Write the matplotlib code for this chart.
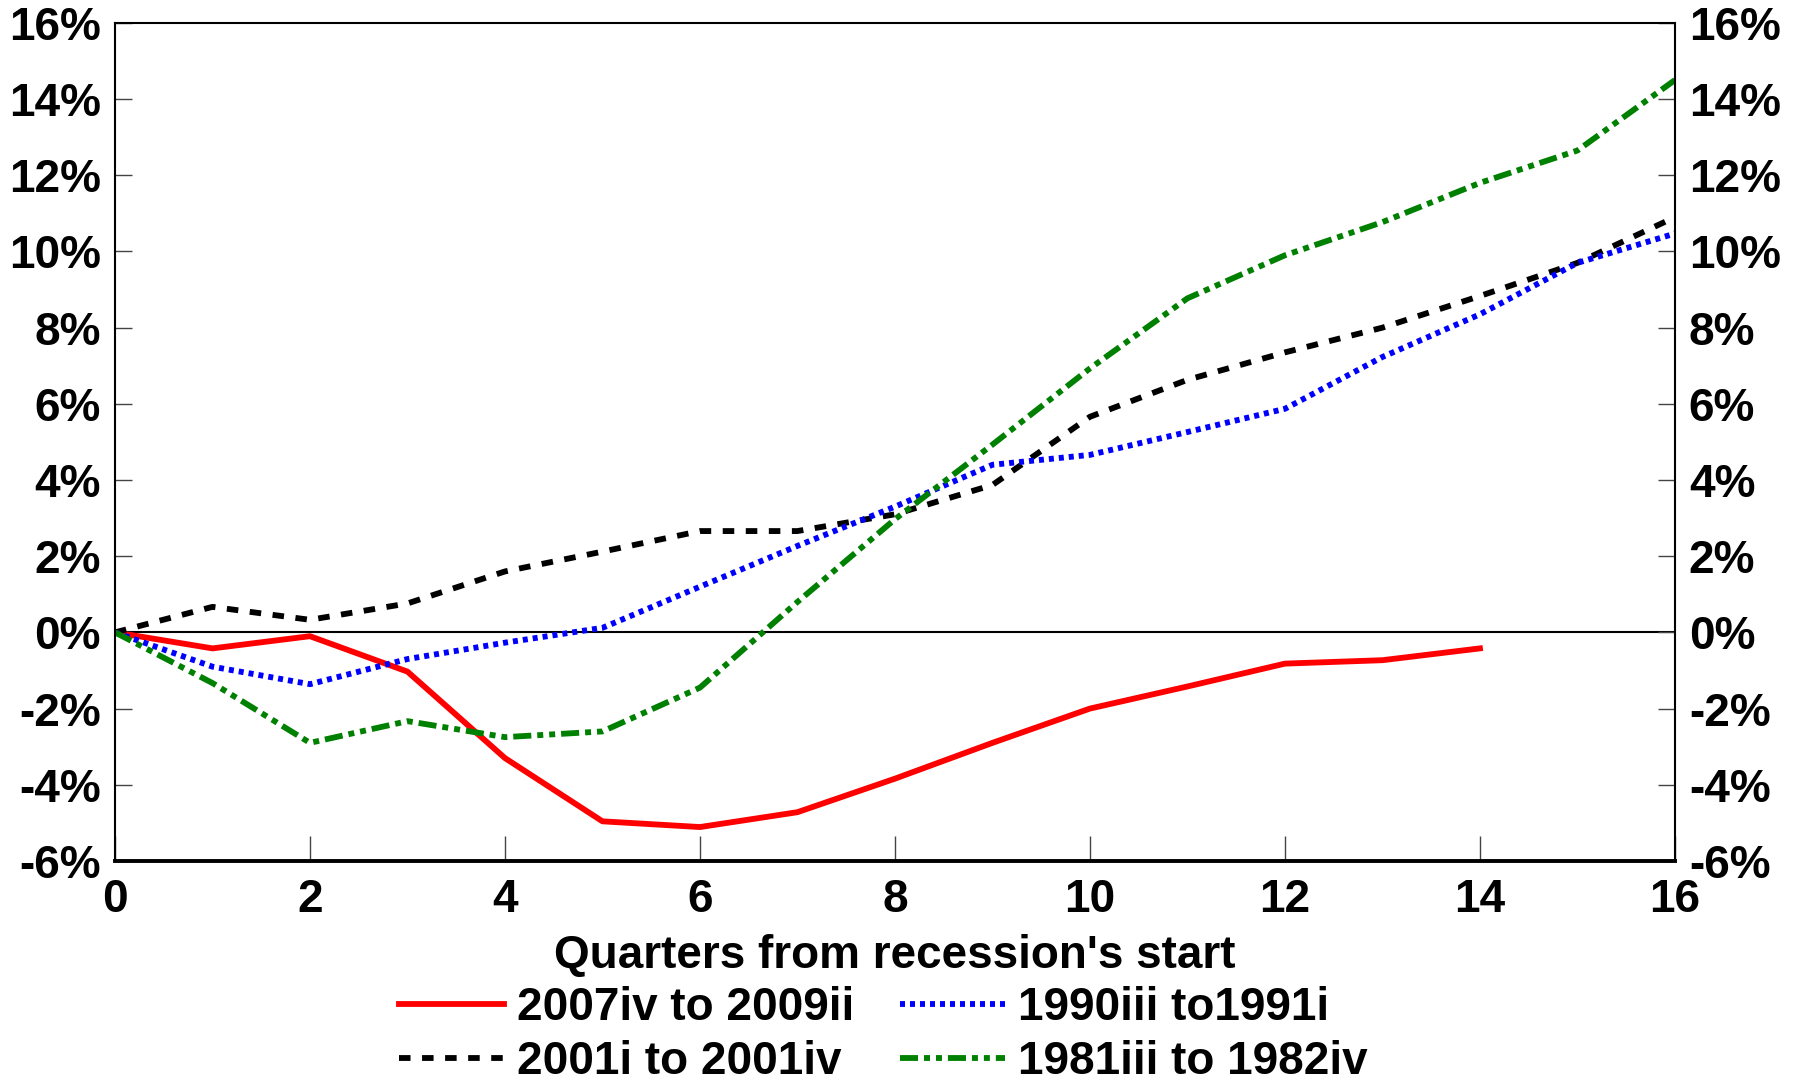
import numpy as np
import matplotlib.pyplot as plt
from matplotlib.ticker import FuncFormatter

plt.rcParams['font.family'] = ['Liberation Sans', 'DejaVu Sans']
plt.rcParams['font.weight'] = 'bold'
plt.rcParams['lines.scale_dashes'] = False

quarters = np.arange(0, 17)

# cumulative change since the recession started, in percent
rec_2007 = [0.0, -0.42, -0.1, -1.03, -3.3, -4.96, -5.11, -4.72, -3.84, -2.9,
            -2.0, -1.42, -0.82, -0.73, -0.42]
rec_2001 = [0.0, 0.67, 0.33, 0.76, 1.6, 2.12, 2.66, 2.66, 3.1, 3.87,
            5.66, 6.63, 7.35, 8.0, 8.83, 9.7, 10.9]
rec_1990 = [0.0, -0.9, -1.36, -0.7, -0.27, 0.12, 1.2, 2.27, 3.3, 4.4,
            4.66, 5.26, 5.87, 7.23, 8.35, 9.7, 10.47]
rec_1981 = [0.0, -1.33, -2.9, -2.33, -2.75, -2.6, -1.45, 0.8, 2.97, 4.93,
            6.93, 8.77, 9.9, 10.77, 11.8, 12.65, 14.5]

labels = ['2007iv to 2009ii', '2001i to 2001iv', '1990iii to1991i', '1981iii to 1982iv']

fig = plt.figure(figsize=(18.08, 10.85), dpi=100)
ax = fig.add_axes([0.0636, 0.2065, 0.8628, 0.7724])

lw = 4.2
ax.axhline(0, color='black', lw=1.5, zorder=1)
l1, = ax.plot(quarters[:len(rec_2007)], rec_2007, color='#ff0000', lw=lw, label=labels[0])
l2, = ax.plot(quarters, rec_2001, color='black', lw=lw, dashes=(8.3, 8.3), label=labels[1])
l3, = ax.plot(quarters, rec_1990, color='#0000ff', lw=lw, dashes=(3.6, 3.6), label=labels[2])
l4, = ax.plot(quarters, rec_1981, color='#008000', lw=lw,
              dashes=(13, 4.3, 4.3, 4.3, 4.3, 4.3), label=labels[3])

ax.set_xlim(0, 16)
ax.set_ylim(-6, 16)
ax.set_xticks(np.arange(0, 17, 2))
ax.set_yticks(np.arange(-6, 17, 2))
ax.yaxis.set_major_formatter(FuncFormatter(lambda v, p: '{:.0f}%'.format(v)))

fs = 33
ax.tick_params(axis='y', direction='in', length=12, width=1, color='#444444',
               labelsize=fs, pad=10, left=True, right=True, labelleft=True, labelright=True)
ax.tick_params(axis='x', direction='in', length=18, width=1, color='#444444',
               labelsize=fs, pad=12)
for lab in ax.get_xticklabels() + ax.get_yticklabels():
    lab.set_fontweight('bold')

for side in ['left', 'top', 'right']:
    ax.spines[side].set_linewidth(1.5)
ax.spines['bottom'].set_linewidth(2.8)

ax.set_xlabel("Quarters from recession's start", fontsize=fs, fontweight='bold', labelpad=9)

fig.legend(handles=[l1, l2, l3, l4], loc='center', bbox_to_anchor=(0.4885, 0.046),
           ncol=2, frameon=False, handlelength=2.3, handletextpad=0.28,
           columnspacing=1.0, labelspacing=0.22, borderpad=0,
           prop={'weight': 'bold', 'size': fs})

plt.savefig('out.png', dpi=100)
